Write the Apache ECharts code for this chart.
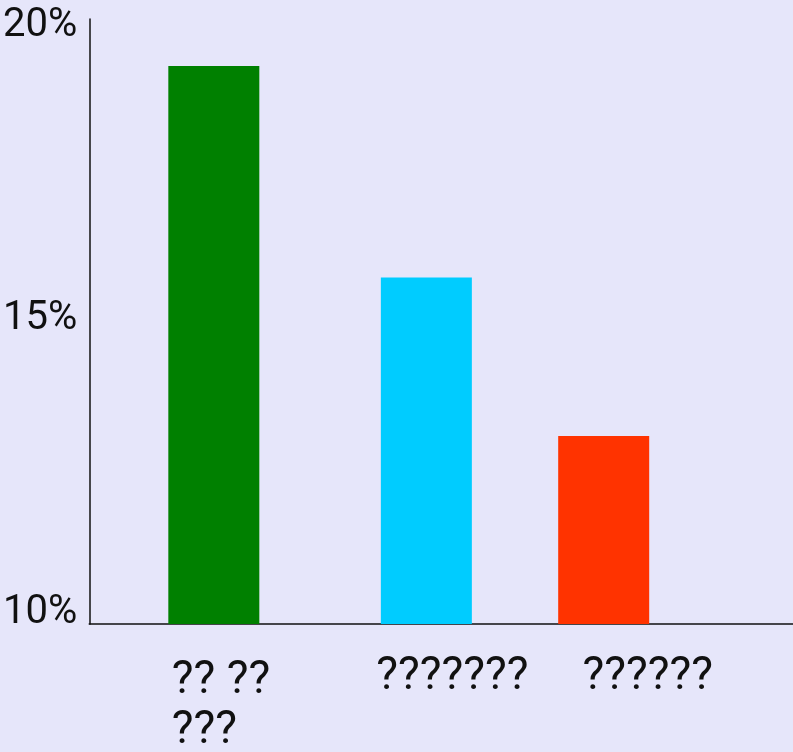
<!DOCTYPE html>
<html>
<head>
<meta charset="utf-8">
<script src="https://cdn.jsdelivr.net/npm/echarts@6/dist/echarts.min.js"></script>
<style>
  html, body { margin: 0; padding: 0; background: #e6e6fa; }
  #chart { width: 793px; height: 752px; }
</style>
</head>
<body>
<div id="chart"></div>
<script>
// bar labels (text came through as question marks in the source)
const categories = ['?? ??\n???', '???????', '??????']
// bar heights, percent
const values = [19.5, 15.9, 13.2]
// bar centres along the x axis (0..100)
const xPositions = [17.7, 47.9, 73.1]
const barColors = ['#008000', '#00ccff', '#ff3300']
// y axis tick labels
const yTicks = [10, 15, 20]

// label placement relative to each bar (bars and labels are not aligned in the original)
const labelLayout = [
  { align: 'left', offset: [-42, 32] },
  { align: 'center', offset: [26, 28] },
  { align: 'center', offset: [44, 28] }
]

const chart = echarts.init(document.getElementById('chart'))

chart.setOption({
  backgroundColor: '#e6e6fa',
  animation: false,
  grid: {
    left: 89,
    right: 0,
    top: 19,
    bottom: 128
  },
  xAxis: {
    type: 'value',
    min: 0,
    max: 100,
    axisLine: { show: true, lineStyle: { color: '#111', width: 1.5 } },
    axisTick: { show: false },
    axisLabel: { show: false },
    splitLine: { show: false }
  },
  yAxis: {
    type: 'value',
    min: yTicks[0],
    max: 20.3,
    interval: 5,
    axisLine: { show: true, lineStyle: { color: '#111', width: 1.5 } },
    axisTick: { show: false },
    splitLine: { show: false },
    axisLabel: {
      showMaxLabel: false,
      margin: 12,
      color: '#111',
      fontFamily: 'Roboto',
      fontSize: 40,
      verticalAlign: 'bottom',
      lineHeight: 22,
      formatter: (v) => (yTicks.indexOf(v) >= 0 ? v + '%' : '')
    }
  },
  series: [{
    type: 'bar',
    barWidth: 91,
    data: values.map((v, i) => ({
      value: [xPositions[i], v],
      itemStyle: { color: barColors[i] },
      label: {
        show: true,
        position: 'bottom',
        distance: 0,
        align: labelLayout[i].align,
        verticalAlign: 'top',
        offset: labelLayout[i].offset,
        formatter: () => categories[i]
      }
    })),
    label: {
      color: '#111',
      fontFamily: 'Roboto',
      fontSize: 46,
      lineHeight: 50
    }
  }]
})
</script>
</body>
</html>
